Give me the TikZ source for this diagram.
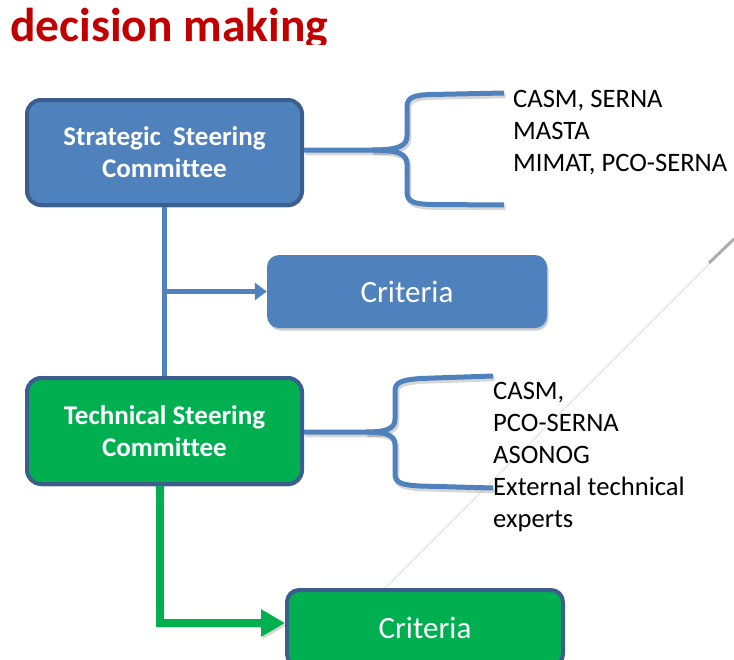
\documentclass[tikz,border=0pt]{standalone}
\usepackage{fontspec}
\setmainfont[Ligatures=NoCommon]{Carlito}
\usetikzlibrary{arrows.meta,shadows,calc}
\definecolor{boxblue}{HTML}{4F81BD}
\definecolor{edgeblue}{HTML}{3B5E8C}
\definecolor{boxgreen}{HTML}{00B050}
\definecolor{titlered}{HTML}{C00000}
\begin{document}
\begin{tikzpicture}[x=1pt,y=-1pt,
  softshadow/.style={drop shadow={shadow xshift=1.5pt,shadow yshift=-2.5pt,opacity=0.2,fill=black}},
  bigbox/.style={draw=edgeblue,line width=4pt,rounded corners=14pt,text=white,
    font=\bfseries\fontsize{27}{32}\selectfont,align=center,
    minimum width=275pt,minimum height=106pt,inner sep=0pt,softshadow},
  critbox/.style={rounded corners=12pt,text=white,font=\fontsize{31}{34}\selectfont,
    inner sep=0pt,softshadow},
  lineshadow/.style={preaction={draw=black,opacity=0.16,line width=5.5pt,transform canvas={xshift=1.5pt,yshift=-2.5pt}}},
  bracel/.style={draw=boxblue,line width=5pt,lineshadow},
  listtext/.style={anchor=base west,font=\fontsize{26.6}{32}\selectfont,inner sep=0pt,text=black},
]
\useasboundingbox (0,0) rectangle (734,659);
\begin{scope}
\clip (0,0) rectangle (734,659);

% faint diagonal line
\coordinate (d1) at (385,588);
\coordinate (d2) at (734,239);
\coordinate (d3) at (709,263);
\draw[line width=0.6pt,black!16] (d1) -- (d2);
\draw[line width=3pt,black!32] (d3) -- (d2);

% title
\begin{scope}
\clip (0,0) rectangle (734,44);
\node[anchor=base west,inner sep=0pt,font=\bfseries\fontsize{47.5}{50}\selectfont,text=titlered] (title) at (10,41) {decision making};
\end{scope}

% boxes
\node[bigbox,fill=boxblue,minimum height=105pt] (strat) at (164.5,152.5) {Strategic\ \ Steering\\Committee};
\node[bigbox,fill=boxgreen] (tech) at (164.5,431) {Technical Steering\\Committee};
\node[critbox,fill=boxblue,minimum width=280pt,minimum height=73pt] (crit1) at (407,291.5) {Criteria};
\node[critbox,fill=boxgreen,draw=edgeblue,line width=4pt,minimum width=276pt,minimum height=76pt] (crit2) at (425,628) {Criteria};

% blue connectors
\draw[boxblue,line width=5pt] (strat.south) -- (tech.north);
\coordinate (j) at (strat.south |- crit1.west);
\draw[boxblue,line width=5pt,-{Triangle[length=12pt,width=17pt]}] (j) -- (crit1.west);

% green connector
\coordinate (g1) at (160,623);
\draw[boxgreen,line width=8pt,lineshadow,-{Triangle[length=24pt,width=26pt]}] (tech.south -| g1) -- (g1) -- (crit2.west |- g1);

% brace 1
\coordinate (b1tip) at (372,150);
\coordinate (b1top) at (504,93);
\coordinate (b1bot) at (504,205);
\draw[bracel] (strat.east |- b1tip) -- (b1tip)
  .. controls (398,150) and (407,146) .. (407,136) -- (407,107)
  .. controls (407,97) and (414,95) .. (432,94.5) -- (b1top);
\draw[bracel] (b1tip)
  .. controls (398,150) and (407,154) .. (407,164) -- (407,192)
  .. controls (407,202) and (414,204) .. (432,204.5) -- (b1bot);

% brace 2
\coordinate (b2tip) at (366,432);
\coordinate (b2top) at (493,376);
\coordinate (b2bot) at (493,488);
\draw[bracel] (tech.east |- b2tip) -- (b2tip)
  .. controls (388,432) and (395,428) .. (395,419) -- (395,391)
  .. controls (395,382) and (402,380) .. (420,378.5) -- (b2top);
\draw[bracel] (b2tip)
  .. controls (388,432) and (395,436) .. (395,445) -- (395,474)
  .. controls (395,483) and (402,485) .. (420,486) -- (b2bot);

% lists
\node[listtext] (l1a) at (513,107) {CASM, SERNA};
\node[listtext] (l1b) at (513,139) {MASTA};
\node[listtext] (l1c) at (513,171) {MIMAT, PCO-SERNA};

\node[listtext] (l2a) at (493,399) {CASM,};
\node[listtext] (l2b) at (493,431) {PCO-SERNA};
\node[listtext] (l2c) at (493,463) {ASONOG};
\node[listtext] (l2d) at (493,495) {External technical};
\node[listtext] (l2e) at (493,527) {experts};
\end{scope}
\end{tikzpicture}
\end{document}
